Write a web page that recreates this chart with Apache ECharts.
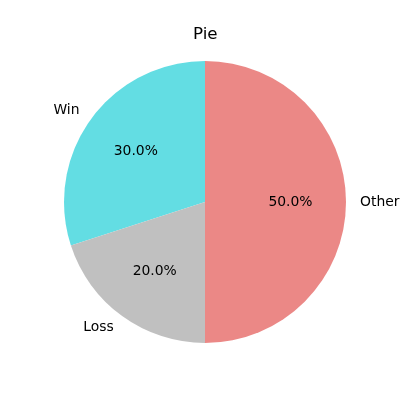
<!DOCTYPE html>
<html>
<head>
<meta charset="utf-8">
<script src="https://cdn.jsdelivr.net/npm/echarts@6/dist/echarts.min.js"></script>
<style>
  html, body { margin: 0; padding: 0; background: #fff; }
  #chart { width: 400px; height: 400px; }
</style>
</head>
<body>
<div id="chart"></div>
<script>
var labels = ['Win', 'Loss', 'Other'];
var values = [30, 20, 50];
var colors = ['#63dde3', '#c0c0c0', '#eb8886'];

var chart = echarts.init(document.getElementById('chart'));

// pie geometry, matplotlib style: start at top, counter-clockwise
var center = [205, 202];
var r = 141;

function pieData() {
    return labels.map(function (name, i) {
        return {name: name, value: values[i], itemStyle: {color: colors[i]}};
    });
}

var option = {
    animation: false,
    title: {
        text: 'Pie',
        left: 193,
        top: 26,
        padding: 0,
        textStyle: {
            fontFamily: 'DejaVu Sans',
            fontSize: 16.7,
            fontWeight: 'normal',
            color: '#000'
        }
    },
    series: [
        {
            // wedges + outer name labels at 1.1r
            type: 'pie',
            center: center,
            radius: [0, r],
            startAngle: 90,
            clockwise: false,
            avoidLabelOverlap: false,
            silent: true,
            itemStyle: {borderWidth: 0},
            label: {
                show: true,
                position: 'outside',
                formatter: '{b}',
                distanceToLabelLine: 0,
                fontFamily: 'DejaVu Sans',
                fontSize: 13.9,
                color: '#000'
            },
            labelLine: {show: false, length: r * 0.1, length2: 0},
            data: pieData()
        },
        {
            // transparent copy used only for the percent labels at 0.6r
            type: 'pie',
            center: center,
            radius: [0, r * 1.17],
            startAngle: 90,
            clockwise: false,
            avoidLabelOverlap: false,
            silent: true,
            itemStyle: {color: 'rgba(0,0,0,0)', borderWidth: 0},
            label: {
                show: true,
                position: 'inside',
                formatter: function (p) {
                    return p.value.toFixed(1) + '%';
                },
                fontFamily: 'DejaVu Sans',
                fontSize: 13.9,
                color: '#000'
            },
            labelLine: {show: false},
            data: labels.map(function (name, i) {
                return {name: name, value: values[i]};
            })
        }
    ]
};

chart.setOption(option);
</script>
</body>
</html>
